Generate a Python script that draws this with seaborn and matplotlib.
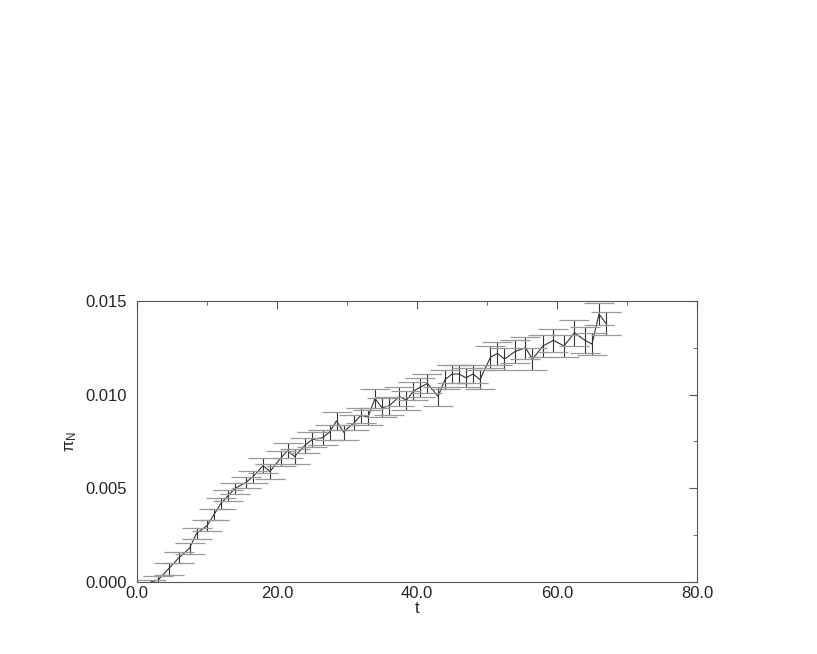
import numpy as np
import matplotlib
matplotlib.use("Agg")
import matplotlib.pyplot as plt
import seaborn as sns
from matplotlib.ticker import MultipleLocator, FormatStrFormatter

# ---------------- Data ----------------
t = [2.0, 3.0, 4.5, 6.0, 7.5, 8.5, 10.0, 11.0, 12.0, 13.0,
     14.0, 15.5, 16.5, 18.0, 19.0, 20.5, 21.5, 22.5, 24.0, 25.0,
     26.5, 27.5, 28.5, 29.5, 31.0, 32.0, 33.0, 34.0, 35.0, 36.0,
     37.5, 38.5, 39.5, 40.5, 41.5, 43.0, 44.0, 45.0, 46.0, 47.0,
     48.0, 49.0, 50.5, 51.5, 52.5, 54.0, 55.5, 56.5, 58.0, 59.5,
     61.0, 62.5, 64.0, 65.0, 66.0, 67.0]
pi_n = [0.0000, 0.0001, 0.0007, 0.0013, 0.0018, 0.0026, 0.0030, 0.0036, 0.0042, 0.0046,
        0.0050, 0.0053, 0.0056, 0.0062, 0.0059, 0.0066, 0.0070, 0.0067, 0.0073, 0.0076,
        0.0077, 0.0080, 0.0086, 0.0080, 0.0085, 0.0089, 0.0088, 0.0098, 0.0093, 0.0094,
        0.0099, 0.0097, 0.0102, 0.0104, 0.0106, 0.0099, 0.0108, 0.0111, 0.0111, 0.0109,
        0.0111, 0.0108, 0.0120, 0.0122, 0.0119, 0.0123, 0.0125, 0.0119, 0.0126, 0.0129,
        0.0126, 0.0133, 0.0129, 0.0127, 0.0143, 0.0138]
err = [0.0001, 0.0002, 0.0003, 0.0003, 0.0003, 0.0003, 0.0003, 0.0003, 0.0003, 0.0003,
       0.0003, 0.0003, 0.0003, 0.0004, 0.0004, 0.0004, 0.0004, 0.0004, 0.0004, 0.0004,
       0.0004, 0.0004, 0.0005, 0.0004, 0.0004, 0.0004, 0.0004, 0.0005, 0.0005, 0.0005,
       0.0005, 0.0005, 0.0005, 0.0005, 0.0005, 0.0005, 0.0005, 0.0005, 0.0005, 0.0005,
       0.0005, 0.0005, 0.0006, 0.0006, 0.0006, 0.0006, 0.0006, 0.0006, 0.0006, 0.0006,
       0.0006, 0.0007, 0.0007, 0.0006, 0.0006, 0.0006]

# ---------------- Style ----------------
sns.set_style("white")
plt.rcParams['font.family'] = ['Liberation Sans', 'DejaVu Sans']

fig = plt.figure(figsize=(8.17, 6.54), dpi=100)
ax = fig.add_axes([0.1677, 0.1101, 0.6854, 0.4297])

sns.lineplot(x=t, y=pi_n, ax=ax, color='#333333', linewidth=0.8)
_, caps, bars = ax.errorbar(t, pi_n, yerr=err, fmt='none', ecolor='#333333',
                            elinewidth=0.8, capsize=11, capthick=0.9)
for c in caps:
    c.set_markeredgecolor('#9a9a9a')  # caps look lighter in the original

ax.set_xlim(0, 80)
ax.set_ylim(0, 0.015)
ax.xaxis.set_major_locator(MultipleLocator(20))
ax.xaxis.set_minor_locator(MultipleLocator(10))
ax.yaxis.set_major_locator(MultipleLocator(0.005))
ax.yaxis.set_minor_locator(MultipleLocator(0.0025))
ax.xaxis.set_major_formatter(FormatStrFormatter('%.1f'))
ax.yaxis.set_major_formatter(FormatStrFormatter('%.3f'))
ax.tick_params(which='both', direction='in', top=True, right=True,
               labelsize=12, color='#555555')
ax.tick_params(which='major', length=6)
ax.tick_params(which='minor', length=3)
ax.tick_params(axis='x', pad=3)
ax.tick_params(axis='y', pad=7)
for s in ax.spines.values():
    s.set_color('#555555')
    s.set_linewidth(0.8)

ax.set_xlabel("t", fontsize=12, labelpad=0)
ax.set_ylabel(r"$\mathdefault{\pi_N}$", fontsize=12, labelpad=5)

plt.savefig("out.png", dpi=100)
